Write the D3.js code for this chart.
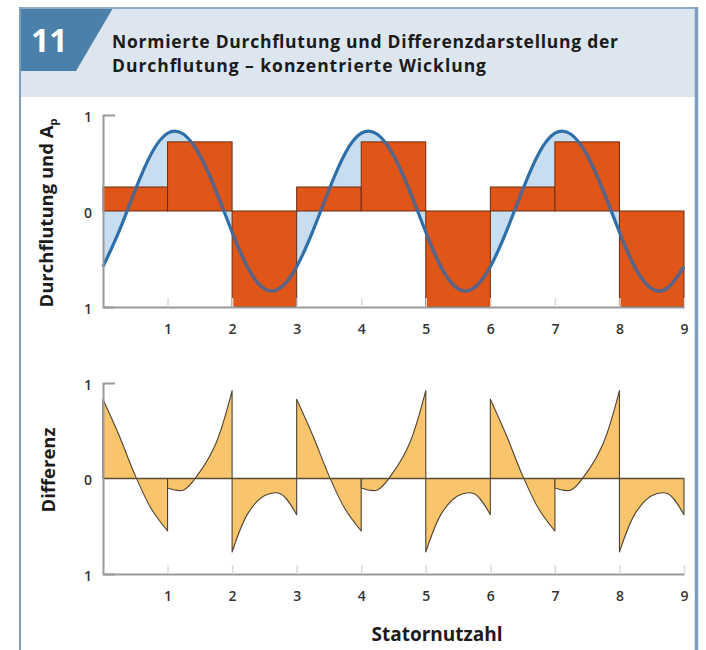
<!DOCTYPE html>
<html>
<head>
<meta charset="utf-8">
<script src="https://cdn.jsdelivr.net/npm/d3@7"></script>
<style>
  body { margin: 0; background: #fff; }
  svg { display: block; font-family: "Open Sans", "Noto Sans", sans-serif; }
</style>
</head>
<body>
<svg id="chart" width="706" height="650"></svg>
<script>
// values
const slotTicks = [1, 2, 3, 4, 5, 6, 7, 8, 9];
const yTickValues = [1, 0, -1];
const yTickLabels = ["1", "0", "1"];

// step height of the normalised MMF per stator slot (0-1, 1-2, ... 8-9)
const stepValues = [0.25, 0.72, -1, 0.25, 0.72, -1, 0.25, 0.72, -1];

// fundamental A_p, sampled every 0.25 slot from 0 to 9
const sineX = d3.range(0, 9.001, 0.25);
const sineValues = [
  -0.58, -0.21, 0.22, 0.60, 0.81, 0.80, 0.58, 0.21, -0.22, -0.60, -0.81, -0.80,
  -0.58, -0.21, 0.22, 0.60, 0.81, 0.80, 0.58, 0.21, -0.22, -0.60, -0.81, -0.80,
  -0.58, -0.21, 0.22, 0.60, 0.81, 0.80, 0.58, 0.21, -0.22, -0.60, -0.81, -0.80,
  -0.58
];

// difference per slot, sampled at slot + 0, 0.25, 0.5, 0.75, 1
const diffOffsets = [0, 0.25, 0.5, 0.75, 1];
const diffValues = [
  [0.83, 0.45, 0.03, -0.32, -0.55],
  [-0.10, -0.12, 0.07, 0.37, 0.92],
  [-0.77, -0.36, -0.18, -0.16, -0.38],
  [0.83, 0.45, 0.03, -0.32, -0.55],
  [-0.10, -0.12, 0.07, 0.37, 0.92],
  [-0.77, -0.36, -0.18, -0.16, -0.38],
  [0.83, 0.45, 0.03, -0.32, -0.55],
  [-0.10, -0.12, 0.07, 0.37, 0.92],
  [-0.77, -0.36, -0.18, -0.16, -0.38]
];

const svg = d3.select("#chart");

// frame + header
svg.append("rect").attr("x", 20).attr("y", 8).attr("width", 676).attr("height", 89)
  .attr("fill", "#dde5ee");
svg.append("path").attr("d", "M20,8 H113 L76,71 H20 Z").attr("fill", "#4b80aa");
svg.append("text").attr("x", 31).attr("y", 52).attr("fill", "#fff")
  .attr("font-size", 32).attr("font-weight", 700).text("11");

const title = svg.append("text").attr("font-size", 17.5).attr("font-weight", 700)
  .attr("fill", "#1b1b1b");
title.append("tspan").attr("x", 112).attr("y", 48)
  .attr("textLength", 506).attr("lengthAdjust", "spacing")
  .text("Normierte Durchflutung und Differenzdarstellung der");
title.append("tspan").attr("x", 112).attr("y", 72)
  .attr("textLength", 374).attr("lengthAdjust", "spacing")
  .text("Durchflutung \u2013 konzentrierte Wicklung");

svg.append("line").attr("x1", 19).attr("x2", 698).attr("y1", 8).attr("y2", 8)
  .attr("stroke", "#8eaac4").attr("stroke-width", 2);
svg.append("line").attr("x1", 20).attr("x2", 20).attr("y1", 7).attr("y2", 650)
  .attr("stroke", "#7c9fc0").attr("stroke-width", 2);
svg.append("line").attr("x1", 696.5).attr("x2", 696.5).attr("y1", 7).attr("y2", 650)
  .attr("stroke", "#7c9fc0").attr("stroke-width", 3.5);

// scales
const x = d3.scaleLinear().domain([0, 9]).range([103, 684]);
const yTop = d3.scaleLinear().domain([-1, 1]).range([307, 115]);
const yBot = d3.scaleLinear().domain([-1, 1]).range([574, 383]);

const sinePoints = sineX.map((d, i) => [d, sineValues[i]]);
const sineLine = d3.line().curve(d3.curveNatural).x(d => x(d[0])).y(d => yTop(d[1]));

// top panel: light blue area under A_p, then the steps, then the line
const gTop = svg.append("g");

gTop.append("path")
  .datum(sinePoints)
  .attr("fill", "#c8ddf0")
  .attr("d", d3.area().curve(d3.curveNatural)
    .x(d => x(d[0])).y0(yTop(0)).y1(d => yTop(d[1])));

const stepRect = sel => sel
  .attr("x", (d, i) => x(i))
  .attr("width", (d, i) => x(i + 1) - x(i))
  .attr("y", d => yTop(Math.max(d, 0)))
  .attr("height", d => Math.abs(yTop(d) - yTop(0)));

gTop.selectAll(".step")
  .data(stepValues)
  .enter()
  .append("rect")
  .attr("class", "step")
  .call(stepRect)
  .attr("fill", "#e05518")
  .attr("stroke", "#6b2c10")
  .attr("stroke-width", 1);

// the line looks greyish where it crosses the orange steps
svg.append("clipPath").attr("id", "stepClip")
  .selectAll("rect")
  .data(stepValues)
  .enter()
  .append("rect")
  .call(stepRect);

gTop.append("path")
  .datum(sinePoints)
  .attr("fill", "none")
  .attr("stroke", "#2f6fa8")
  .attr("stroke-width", 3.2)
  .attr("d", sineLine);

gTop.append("path")
  .datum(sinePoints)
  .attr("clip-path", "url(#stepClip)")
  .attr("fill", "none")
  .attr("stroke", "#5d6385")
  .attr("stroke-width", 3.2)
  .attr("d", sineLine);

// bottom panel: difference per slot
const gBot = svg.append("g");

gBot.selectAll(".diff")
  .data(diffValues)
  .enter()
  .append("path")
  .attr("class", "diff")
  .attr("fill", "#f8c56c")
  .attr("stroke", "#4e4332")
  .attr("stroke-width", 1.1)
  .attr("stroke-linejoin", "round")
  .attr("d", (vals, i) => {
    const pts = vals.map((v, j) => [i + diffOffsets[j], v]);
    return d3.area().curve(d3.curveCatmullRom)
      .x(d => x(d[0])).y0(yBot(0)).y1(d => yBot(d[1]))(pts);
  });

gBot.append("line")
  .attr("x1", x(0)).attr("x2", x(9)).attr("y1", yBot(0)).attr("y2", yBot(0))
  .attr("stroke", "#5a4c34").attr("stroke-width", 1.4);

// axes
function drawAxes(y) {
  const xa = svg.append("g").attr("transform", `translate(0,${y(-1)})`)
    .call(d3.axisBottom(x).tickValues(slotTicks).tickSize(-9).tickSizeOuter(0)
      .tickPadding(17).tickFormat(d3.format("d")));
  xa.select(".domain").attr("stroke", "#9a9a9a").attr("stroke-width", 2);
  xa.selectAll(".tick line").attr("stroke", "#dadada").attr("stroke-width", 1.5);
  xa.selectAll(".tick text").attr("font-size", 14).attr("font-weight", 600)
    .attr("fill", "#333");

  const ya = svg.append("g").attr("transform", `translate(${x(0)},0)`)
    .call(d3.axisLeft(y).tickValues(yTickValues).tickSize(0).tickSizeOuter(-12)
      .tickPadding(11).tickFormat((d, i) => yTickLabels[i]));
  ya.select(".domain").attr("stroke", "#9a9a9a").attr("stroke-width", 2);
  ya.selectAll(".tick text").attr("font-size", 14).attr("font-weight", 600)
    .attr("fill", "#333").attr("dy", "0.45em");
}
drawAxes(yTop);
drawAxes(yBot);
svg.selectAll("g").attr("font-family", null);

// axis titles
const yTitle = svg.append("text")
  .attr("transform", "translate(53,213) rotate(-90)")
  .attr("text-anchor", "middle")
  .attr("font-size", 18.5).attr("font-weight", 700).attr("fill", "#1b1b1b");
yTitle.append("tspan").text("Durchflutung und A");
yTitle.append("tspan").attr("font-size", 11).attr("dy", 4).text("p");

svg.append("text")
  .attr("transform", "translate(55,470) rotate(-90)")
  .attr("text-anchor", "middle")
  .attr("font-size", 18.5).attr("font-weight", 700).attr("fill", "#1b1b1b")
  .text("Differenz");

svg.append("text")
  .attr("x", 437).attr("y", 641)
  .attr("text-anchor", "middle")
  .attr("font-size", 19).attr("font-weight", 700).attr("fill", "#1b1b1b")
  .text("Statornutzahl");
</script>
</body>
</html>
